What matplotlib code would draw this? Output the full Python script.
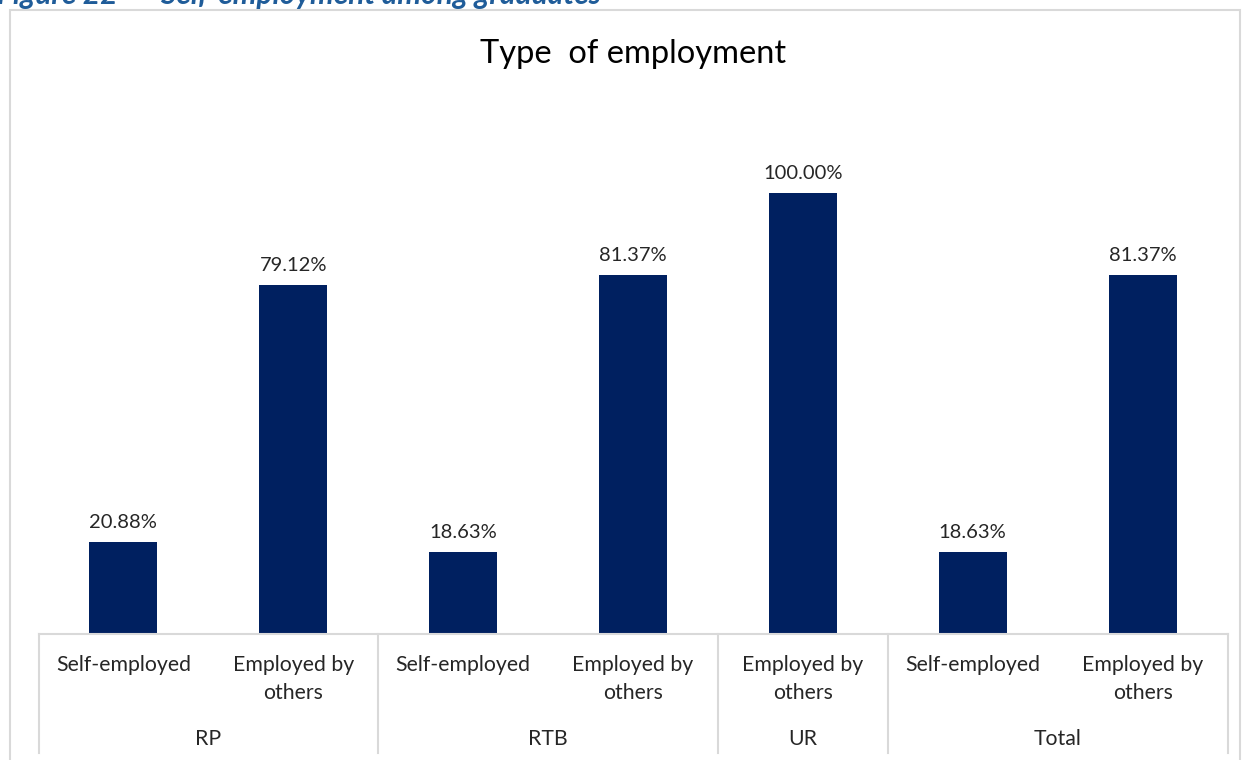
"""
Type of employment — gráfica de barras con eje de categorías de dos niveles.
Guarda el resultado en out.png (1244x760).
"""

import matplotlib
matplotlib.use('Agg')
import matplotlib.pyplot as plt
from matplotlib import transforms
from matplotlib.patches import Rectangle
from matplotlib.lines import Line2D

plt.rcParams['font.family'] = ['Lato', 'DejaVu Sans']

# ---------------------------------------------------------------------------
# Datos
# ---------------------------------------------------------------------------

groups = ["RP", "RTB", "UR", "Total"]
group_types = [
    ["Self-employed", "Employed by\nothers"],
    ["Self-employed", "Employed by\nothers"],
    ["Employed by\nothers"],
    ["Self-employed", "Employed by\nothers"],
]
values = [20.88, 79.12, 18.63, 81.37, 100.00, 18.63, 81.37]

BAR_COLOR = "#002060"
GRID_COLOR = "#D9D9D9"
TEXT_COLOR = "#262626"

W, H = 1244, 760

# ---------------------------------------------------------------------------
# Figura
# ---------------------------------------------------------------------------

fig = plt.figure(figsize=(W / 100, H / 100), dpi=100)

# pie de figura cortado arriba (como en la captura original)
fig.text(-3 / W, 1 - 4 / H, "Figure 22  \u2013  Self-employment among graduates",
         fontsize=21.5, fontweight="bold", fontstyle="italic", color="#1F5C99",
         ha="left", va="baseline")

# borde del área de gráfico
fig.patches.append(Rectangle((10 / W, -0.1), 1230 / W, 1 - 10 / H + 0.1,
                             transform=fig.transFigure, fill=False,
                             edgecolor=GRID_COLOR, lw=1.5))

fig.text(633 / W, 1 - 54 / H, "Type  of employment", fontsize=23.5,
         color="black", ha="center", va="center")

ax = fig.add_axes([38.5 / W, (H - 634) / H, (1227.5 - 38.5) / W, (634 - 105) / H])

x = list(range(len(values)))
bars = ax.bar(x, values, width=0.4, color=BAR_COLOR)
ax.bar_label(bars, labels=[f"{v:.2f}%" for v in values], padding=8,
             fontsize=14.5, color=TEXT_COLOR)

ax.set_xlim(-0.5, len(values) - 0.5)
ax.set_ylim(0, 120)
ax.set_xticks([])
ax.set_yticks([])
for side in ["left", "right", "top"]:
    ax.spines[side].set_visible(False)
ax.spines["bottom"].set_color(GRID_COLOR)
ax.spines["bottom"].set_linewidth(1.5)

# eje de categorías en dos niveles
trans = transforms.blended_transform_factory(ax.transData, fig.transFigure)
pos = 0
seps = [-0.5]
for grp, types in zip(groups, group_types):
    for t in types:
        ax.text(pos, 1 - 655 / H, t, transform=trans, ha="center", va="top",
                fontsize=15.3, color=TEXT_COLOR, linespacing=1.5)
        pos += 1
    ax.text(pos - len(types) / 2 - 0.5, 1 - 739 / H, grp, transform=trans,
            ha="center", va="center", fontsize=15.3, color=TEXT_COLOR)
    seps.append(pos - 0.5)

for s in seps:
    fig.lines.append(Line2D([s, s], [1 - 634 / H, 1 - 753 / H], transform=trans,
                            color=GRID_COLOR, lw=1.5))

fig.savefig("out.png", dpi=100)
